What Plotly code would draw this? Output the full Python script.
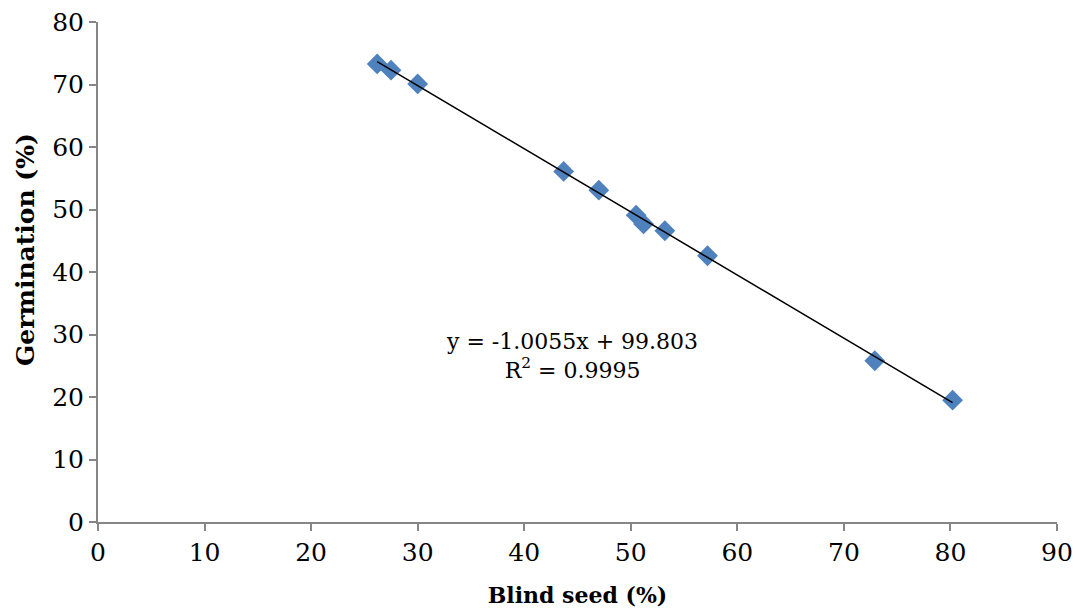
import numpy as np
import plotly.graph_objects as go

blind_seed = [26.2, 27.5, 30.0, 43.7, 47.0, 50.5, 51.2, 53.2, 57.2, 72.9, 80.2]
germination = [73.3, 72.3, 70.1, 56.1, 53.1, 49.1, 47.7, 46.6, 42.6, 25.8, 19.5]

x_ticks = list(range(0, 91, 10))
y_ticks = list(range(0, 81, 10))

eq_text = "y = -1.0055x + 99.803<br>R<sup>2</sup> = 0.9995"

slope, intercept = np.polyfit(blind_seed, germination, 1)
xl = [min(blind_seed), max(blind_seed)]
yl = [slope * v + intercept for v in xl]

font = "DejaVu Serif"
axis_color = "#868686"

fig = go.Figure()
fig.add_trace(go.Scatter(
    x=blind_seed, y=germination, mode="markers",
    marker=dict(symbol="diamond", size=16, color="#4F81BD"),
    showlegend=False, hoverinfo="x+y",
))
fig.add_trace(go.Scatter(
    x=xl, y=yl, mode="lines",
    line=dict(color="black", width=1.5),
    showlegend=False, hoverinfo="skip",
))
fig.add_annotation(
    x=44.5, y=26.6, xref="x", yref="y", text=eq_text, showarrow=False,
    font=dict(family=font, size=22, color="black"), align="center",
)
fig.add_annotation(
    x=0, y=0.5, xref="paper", yref="paper", xanchor="center", yanchor="middle",
    xshift=-73, yshift=22,
    text="<b>Germination (%)</b>", textangle=-90, showarrow=False,
    font=dict(family=font, size=25, color="black"),
)
fig.update_layout(
    width=1077, height=610,
    margin=dict(l=98, r=20, t=22, b=88),
    plot_bgcolor="white", paper_bgcolor="white",
    font=dict(family=font, size=22, color="black"),
    xaxis=dict(
        range=[0, 90], tickvals=x_ticks, showgrid=False, zeroline=False,
        showline=True, linecolor=axis_color, linewidth=2, automargin=False,
        ticks="outside", tickcolor=axis_color, ticklen=7, tickwidth=2,
        tickfont=dict(family=font, size=25),
        title=dict(text="<b>Blind seed (%)</b>", font=dict(family=font, size=22), standoff=22),
    ),
    yaxis=dict(
        range=[0, 80], tickvals=y_ticks, showgrid=False, zeroline=False,
        showline=True, linecolor=axis_color, linewidth=2, automargin=False,
        ticks="outside", tickcolor=axis_color, ticklen=7, tickwidth=2,
        tickfont=dict(family=font, size=25),
    ),
)
fig.write_html("out.html")
